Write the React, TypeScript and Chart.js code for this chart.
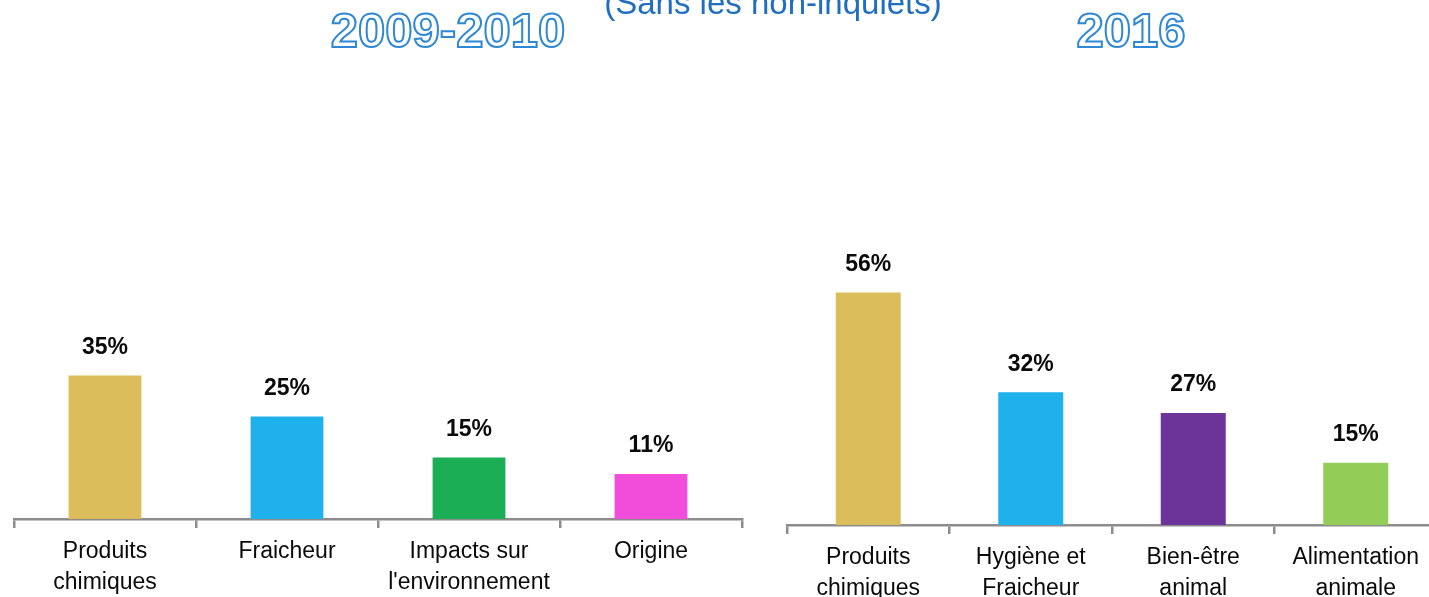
import React, { useEffect, useRef } from "react";
import { Chart, registerables } from "chart.js";

Chart.register(...registerables);

const leftCategories: string[][] = [
  ["Produits", "chimiques"],
  ["Fraicheur"],
  ["Impacts sur", "l'environnement"],
  ["Origine"],
];
const leftValues: number[] = [35, 25, 15, 11];
const leftColors: string[] = ["#DBBE5B", "#1FB1EC", "#1BAE55", "#F24CDB"];

const rightCategories: string[][] = [
  ["Produits", "chimiques"],
  ["Hygiène et", "Fraicheur"],
  ["Bien-être", "animal"],
  ["Alimentation", "animale"],
];
const rightValues: number[] = [56, 32, 27, 15];
const rightColors: string[] = ["#DBBE5B", "#1FB1EC", "#6C3499", "#93CC57"];

const titleLeft = "2009-2010";
const titleRight = "2016";
const subtitle = "(Sans les non-inquiets)";

const FONT = "Arial, 'Liberation Sans', sans-serif";

const valueLabelPlugin = {
  id: "valueLabels",
  afterDatasetsDraw(chart: any) {
    const ctx = chart.ctx;
    const meta = chart.getDatasetMeta(0);
    const data = chart.data.datasets[0].data as number[];
    ctx.save();
    ctx.font = `bold 23px ${FONT}`;
    ctx.fillStyle = "#0A0A0A";
    ctx.textAlign = "center";
    ctx.textBaseline = "middle";
    meta.data.forEach((el: any, i: number) => {
      ctx.fillText(`${data[i]}%`, el.x, el.y - 28);
    });
    ctx.restore();
  },
};

function BarPanel(props: {
  labels: string[][];
  values: number[];
  colors: string[];
  width: number;
  padLeft: number;
  padRight: number;
  padTop: number;
  axisHeight: number;
}) {
  const ref = useRef<HTMLCanvasElement | null>(null);
  useEffect(() => {
    if (!ref.current) return;
    const chart = new Chart(ref.current, {
      type: "bar",
      data: {
        labels: props.labels,
        datasets: [
          {
            data: props.values,
            backgroundColor: props.colors,
            borderWidth: 0,
            categoryPercentage: 1,
            barPercentage: 0.4,
          },
        ],
      },
      options: {
        animation: false,
        responsive: false,
        layout: {
          padding: { left: props.padLeft, right: props.padRight, top: props.padTop, bottom: 0 },
        },
        plugins: {
          legend: { display: false },
          tooltip: { enabled: false },
          title: { display: false },
        },
        scales: {
          y: { display: false, min: 0, max: 60 },
          x: {
            afterFit: (scale: any) => {
              scale.height = props.axisHeight;
            },
            border: { display: true, color: "#8C8C8C", width: 2.5 },
            grid: {
              offset: true,
              drawOnChartArea: false,
              drawTicks: true,
              tickLength: 9,
              color: "#8C8C8C",
              lineWidth: 2.5,
            },
            ticks: {
              color: "#0A0A0A",
              padding: 8,
              maxRotation: 0,
              autoSkip: false,
              font: { family: FONT, size: 23, lineHeight: 1.35 },
            },
          },
        },
      },
      plugins: [valueLabelPlugin],
    });
    return () => chart.destroy();
  }, []);
  return (
    <canvas
      ref={ref}
      width={props.width}
      height={597}
      style={{ width: props.width, height: 597, display: "block" }}
    />
  );
}

const titleStyle: React.CSSProperties = {
  position: "absolute",
  top: 30,
  transform: "translate(-50%, -50%)",
  font: `bold 49px ${FONT}`,
  lineHeight: 1,
  color: "#FFFFFF",
  WebkitTextStroke: "2px #2F88D4",
  whiteSpace: "nowrap",
};

export default function App() {
  return (
    <div
      style={{
        position: "fixed",
        left: 0,
        top: 0,
        width: 1429,
        height: 597,
        overflow: "hidden",
        background: "#FFFFFF",
      }}
    >
      <div style={{ position: "absolute", left: 0, top: 0 }}>
        <BarPanel
          labels={leftCategories}
          values={leftValues}
          colors={leftColors}
          width={760}
          padLeft={14}
          padRight={18}
          padTop={273}
          axisHeight={78}
        />
      </div>
      <div style={{ position: "absolute", left: 770, top: 0 }}>
        <BarPanel
          labels={rightCategories}
          values={rightValues}
          colors={rightColors}
          width={680}
          padLeft={17}
          padRight={13}
          padTop={276}
          axisHeight={72}
        />
      </div>
      <div style={{ ...titleStyle, left: 448 }}>{titleLeft}</div>
      <div style={{ ...titleStyle, left: 1131 }}>{titleRight}</div>
      <div
        style={{
          position: "absolute",
          left: 773,
          top: -14,
          transform: "translateX(-50%)",
          font: `33px ${FONT}`,
          lineHeight: 1,
          color: "#1F6EBF",
          whiteSpace: "nowrap",
        }}
      >
        {subtitle}
      </div>
    </div>
  );
}
